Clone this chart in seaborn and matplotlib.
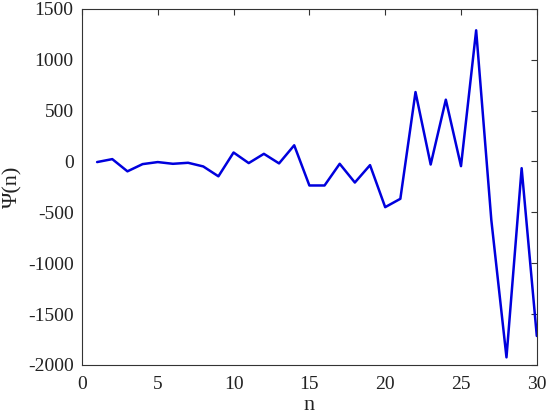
import matplotlib
matplotlib.use("Agg")
import matplotlib.pyplot as plt
import seaborn as sns
import pandas as pd

n_vals = list(range(1, 31))
psi_vals = [-6, 23, -97, -26, -6, -23, -13, -49, -146, 88,
            -16, 75, -19, 159, -236, -236, -23, -207, -36, -449,
            -367, 682, -30, 607, -46, 1289, -575, -1925, -66, -1715]
x_ticks = [0, 5, 10, 15, 20, 25, 30]
y_ticks = [-2000, -1500, -1000, -500, 0, 500, 1000, 1500]

sns.set_theme(style="white")
plt.rcParams['font.family'] = ['Liberation Serif', 'DejaVu Serif']
plt.rcParams['axes.unicode_minus'] = False

fig = plt.figure(figsize=(5.5, 4.2), dpi=100)
ax = fig.add_axes([0.149, 0.131, 0.827, 0.848])
df = pd.DataFrame({"n": n_vals, "psi": psi_vals})
sns.lineplot(data=df, x="n", y="psi", ax=ax, color="#0000dd", linewidth=1.8)

ax.set_xlim(0, 30)
ax.set_ylim(-2000, 1500)
ax.set_xticks(x_ticks)
ax.set_yticks(y_ticks)
ax.tick_params(direction="in", top=True, right=True, labelsize=14,
               length=4.5, width=0.8, colors="#333333", labelcolor="#222222")
ax.tick_params(axis="x", pad=8)
ax.tick_params(axis="y", pad=6)
for s in ax.spines.values():
    s.set_color("#333333")
    s.set_linewidth(0.8)
ax.set_xlabel("n", fontsize=16, color="#222222", labelpad=2)
ax.set_ylabel("Ψ(n)", fontsize=16, color="#222222", labelpad=4)
fig.savefig("out.png", dpi=100)
